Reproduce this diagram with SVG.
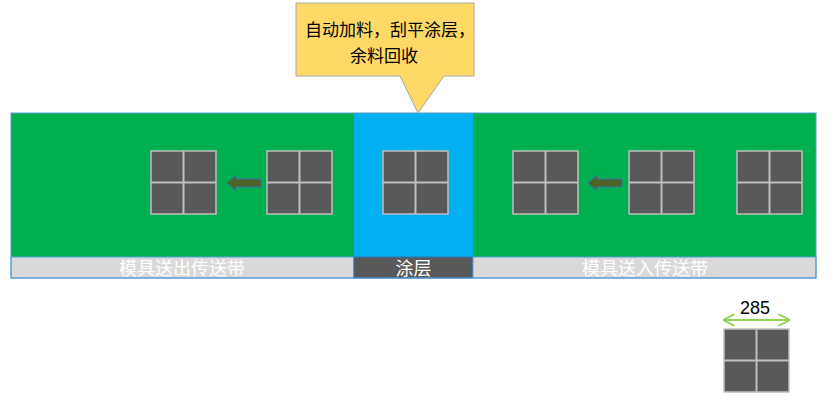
<svg xmlns="http://www.w3.org/2000/svg" width="837" height="406" viewBox="0 0 837 406">
<style>
.tile{fill:#595959;stroke:#BFBFBF;stroke-width:1.5}
.tl{stroke:#BFBFBF;stroke-width:2}
.lbl{font-family:"Noto Sans CJK SC","Liberation Sans",sans-serif;font-size:18px;text-anchor:middle}
.mv{fill:#4F6228;stroke:#2E75B6;stroke-width:1}
</style>
<defs>
<g id="tile">
<rect class="tile" x="0" y="0" width="65" height="63"/>
<line class="tl" x1="32.5" y1="0" x2="32.5" y2="63"/>
<line class="tl" x1="0" y1="31.5" x2="65" y2="31.5"/>
</g>
<marker id="ga" viewBox="0 0 10 10" refX="9" refY="5" markerWidth="6" markerHeight="6" orient="auto-start-reverse">
<path d="M0,0 L10,5 L0,10" fill="none" stroke="#92D050" stroke-width="1.5"/>
</marker>
</defs>
<g id="belt-out">
<rect x="11" y="113" width="343" height="144" fill="#00B050"/>
<rect x="11" y="257" width="343" height="21" fill="#D9D9D9" stroke="#5B9BD5" stroke-width="1"/>
<text class="lbl" x="182" y="275" fill="#FFFFFF">模具送出传送带</text>
</g>
<g id="coating">
<rect x="354" y="113" width="119" height="144" fill="#00B0F0"/>
<rect x="354" y="257" width="119" height="21" fill="#595959" stroke="#2E75B6" stroke-width="1"/>
<text class="lbl" x="413.5" y="275" fill="#FFFFFF">涂层</text>
</g>
<g id="belt-in">
<rect x="473" y="113" width="343" height="144" fill="#00B050"/>
<rect x="473" y="257" width="343" height="21" fill="#D9D9D9" stroke="#5B9BD5" stroke-width="1"/>
<text class="lbl" x="645" y="275" fill="#FFFFFF">模具送入传送带</text>
</g>
<rect x="11" y="113" width="805" height="165" fill="none" stroke="#5B9BD5" stroke-width="1"/>
<g id="tiles">
<use href="#tile" x="151" y="151"/>
<use href="#tile" x="267" y="151"/>
<use href="#tile" x="383" y="151"/>
<use href="#tile" x="513" y="151"/>
<use href="#tile" x="629" y="151"/>
<use href="#tile" x="737" y="151"/>
</g>
<g id="connectors">
<path class="mv" d="M227,183 L236,175 L236,179 L261,179 L261,187 L236,187 L236,191 Z"/>
<path class="mv" d="M588,183 L597,175 L597,179 L622,179 L622,187 L597,187 L597,191 Z"/>
<line x1="724" y1="320" x2="789" y2="320" stroke="#92D050" stroke-width="2" marker-start="url(#ga)" marker-end="url(#ga)"/>
</g>
<g id="callout">
<path d="M296,3 L474,3 L474,76 L444,76 L418,113 L400,76 L296,76 Z" fill="#FFD966" stroke="#A6A6A6" stroke-width="1"/>
<text x="305" y="36" font-family="Noto Sans CJK SC,Liberation Sans,sans-serif" font-size="17" fill="#000000">自动加料，刮平涂层，</text>
<text x="350" y="62" font-family="Noto Sans CJK SC,Liberation Sans,sans-serif" font-size="17" fill="#000000">余料回收</text>
</g>
<g id="sample">
<use href="#tile" x="724" y="329"/>
<text x="755" y="314" font-family="Liberation Sans,Arial,sans-serif" font-size="18" text-anchor="middle" fill="#000000">285</text>
</g>
</svg>
